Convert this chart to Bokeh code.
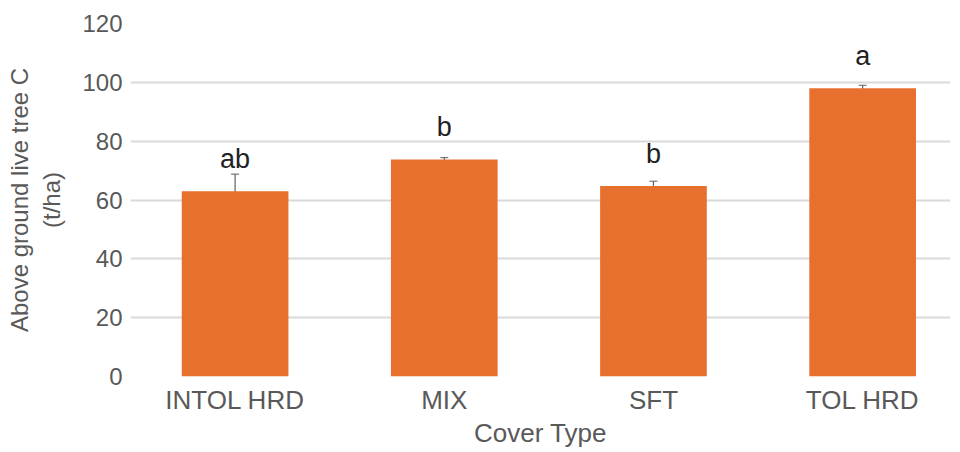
from bokeh.plotting import figure
from bokeh.models import ColumnDataSource, Range1d, FixedTicker, Whisker, LabelSet
from bokeh.core.properties import value
from bokeh.embed import file_html
from bokeh.resources import INLINE

categories = ["INTOL HRD", "MIX", "SFT", "TOL HRD"]
carbon = [63.0, 73.8, 64.8, 98.0]
std_err = [5.8, 0.6, 1.6, 1.0]
letters = ["ab", "b", "b", "a"]
y_ticks = [0, 20, 40, 60, 80, 100, 120]

xs = list(range(len(categories)))
src = ColumnDataSource(dict(
    x=xs, top=carbon,
    upper=[c + e for c, e in zip(carbon, std_err)],
    lower=[c - e for c, e in zip(carbon, std_err)],
    letter=letters,
))

FONT = "Liberation Sans"
GREY = "#595959"

p = figure(output_backend="svg", toolbar_location=None,
           width=952, height=450,
           x_range=Range1d(-0.5, 3.42), y_range=Range1d(0, 120),
           min_border_left=130, min_border_right=2, min_border_top=23, min_border_bottom=74)
p.outline_line_color = None
p.background_fill_color = "white"
p.border_fill_color = "white"

p.vbar(x="x", top="top", width=0.51, bottom=0, source=src,
       fill_color="#E8702F", line_color=None)

w = Whisker(base="x", upper="upper", lower="lower", source=src,
            line_color="#606060", line_width=1.2)
w.upper_head.size = 8
w.lower_head.size = 8
w.upper_head.line_color = "#606060"
w.lower_head.line_color = "#606060"
p.add_layout(w)

labels = LabelSet(x="x", y="top", text="letter", source=src,
                  y_offset=17, text_align="center", text_baseline="bottom",
                  text_font=value(FONT), text_font_size=value("27px"),
                  text_color=value("#222222"))
p.add_layout(labels)

# axes
p.xaxis.ticker = FixedTicker(ticks=xs)
p.xaxis.major_label_overrides = {i: c for i, c in enumerate(categories)}
p.yaxis.ticker = FixedTicker(ticks=y_ticks)
for ax in (p.xaxis[0], p.yaxis[0]):
    ax.axis_line_color = None
    ax.major_tick_line_color = None
    ax.minor_tick_line_color = None
    ax.major_tick_out = 0
    ax.major_tick_in = 0
    ax.minor_tick_out = 0
    ax.minor_tick_in = 0
    ax.major_label_text_font = FONT
    ax.major_label_text_color = GREY
    ax.axis_label_text_font = FONT
    ax.axis_label_text_color = GREY
    ax.axis_label_text_font_style = "normal"
p.xaxis.major_label_text_font_size = "26px"
p.yaxis.major_label_text_font_size = "24px"
p.xaxis.axis_label = "Cover Type"
p.yaxis.axis_label = "Above ground live tree C\n(t/ha)"
p.xaxis.axis_label_text_font_size = "26px"
p.yaxis.axis_label_text_font_size = "24px"
p.xaxis.major_label_standoff = 8
p.xaxis.axis_label_standoff = 0
p.yaxis.major_label_standoff = 8
p.yaxis.axis_label_standoff = 14

p.xgrid.grid_line_color = None
p.ygrid.grid_line_color = "#d9d9d9"
p.ygrid.grid_line_width = 2

open("out.html", "w").write(file_html(p, INLINE))
